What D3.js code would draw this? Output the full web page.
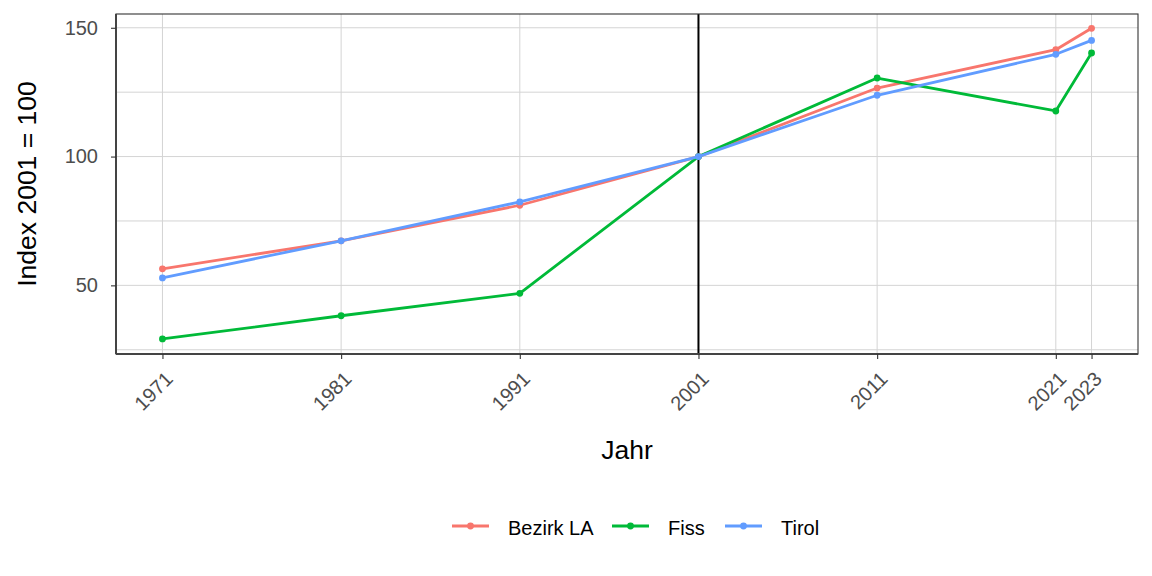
<!DOCTYPE html>
<html><head><meta charset="utf-8">
<script src="https://cdn.jsdelivr.net/npm/d3@7"></script>
<style>body{margin:0;background:#fff;} text{font-family:"Liberation Sans",Arial,sans-serif;}</style>
</head><body><svg id="c" width="1152" height="576"></svg>
<script>
const years = [1971, 1981, 1991, 2001, 2011, 2021, 2023];
const seriesNames = ["Bezirk LA", "Fiss", "Tirol"];
const bezirkLA = [56.4, 67.3, 81.1, 100, 126.6, 141.5, 149.8];
const fiss = [29.2, 38.2, 46.9, 100, 130.5, 117.7, 140.2];
const tirol = [52.9, 67.3, 82.4, 100, 123.8, 139.7, 145.1];
const colors = ["#F8766D", "#00BA38", "#619CFF"];
const yTicks = [50, 100, 150];
const yMinor = [25, 75, 125];
const refYear = 2001;

const svg = d3.select("#c");
const L = 116, R = 1138, T = 14, B = 354;
const x = d3.scaleLinear().domain([1968.4, 2025.6]).range([L, R]);
const y = d3.scaleLinear().domain([23.35, 155.35]).range([B, T]);
const grid = "#d4d4d4";

// grid
svg.append("g").selectAll("line").data(yMinor.concat(yTicks)).join("line")
  .attr("x1", L).attr("x2", R).attr("y1", d => y(d)).attr("y2", d => y(d))
  .attr("stroke", grid).attr("stroke-width", 1);
svg.append("g").selectAll("line").data(years).join("line")
  .attr("y1", T).attr("y2", B).attr("x1", d => x(d)).attr("x2", d => x(d))
  .attr("stroke", grid).attr("stroke-width", 1);

// vline
svg.append("line").attr("x1", x(refYear)).attr("x2", x(refYear)).attr("y1", T).attr("y2", B)
  .attr("stroke", "#000").attr("stroke-width", 2);

// series
const data = [bezirkLA, fiss, tirol];
const line = d3.line().x((d, i) => x(years[i])).y(d => y(d));
data.forEach((vals, k) => {
  svg.append("path").datum(vals).attr("d", line).attr("fill", "none")
    .attr("stroke", colors[k]).attr("stroke-width", 2.8).attr("stroke-linejoin", "round");
  svg.append("g").selectAll("circle").data(vals).join("circle")
    .attr("cx", (d, i) => x(years[i])).attr("cy", d => y(d)).attr("r", 3.4).attr("fill", colors[k]);
});

// panel border
svg.append("rect").attr("x", L).attr("y", T).attr("width", R - L).attr("height", B - T)
  .attr("fill", "none").attr("stroke", "#333").attr("stroke-width", 1.1);
svg.append("line").attr("x1", L).attr("x2", R).attr("y1", B).attr("y2", B).attr("stroke", "#444").attr("stroke-width", 2);
svg.append("line").attr("x1", L).attr("x2", L).attr("y1", T).attr("y2", B).attr("stroke", "#444").attr("stroke-width", 2);

// axes
const xAxis = d3.axisBottom(x).tickValues(years).tickFormat(d3.format("d")).tickSize(5).tickPadding(0);
const gx = svg.append("g").attr("transform", `translate(0,${B})`).call(xAxis);
gx.select(".domain").remove();
gx.selectAll(".tick line").attr("stroke", "#333").attr("stroke-width", 1.1);
gx.selectAll(".tick text").attr("fill", "#4d4d4d").style("font-size", "20px")
  .attr("text-anchor", "end").attr("dy", null).attr("y", null)
  .attr("transform", "translate(1,16) rotate(-45)").attr("dominant-baseline", "hanging");

const yAxis = d3.axisLeft(y).tickValues(yTicks).tickSize(5).tickPadding(13);
const gy = svg.append("g").attr("transform", `translate(${L},0)`).call(yAxis);
gy.select(".domain").remove();
gy.selectAll(".tick line").attr("stroke", "#333").attr("stroke-width", 1.1);
gy.selectAll(".tick text").attr("fill", "#4d4d4d").style("font-size", "20px");

// titles
svg.append("text").attr("x", (L + R) / 2).attr("y", 459).attr("text-anchor", "middle")
  .style("font-size", "26.5px").attr("fill", "#000").text("Jahr");
svg.append("text").attr("transform", `translate(36,${(T + B) / 2}) rotate(-90)`).attr("text-anchor", "middle")
  .style("font-size", "26.5px").attr("fill", "#000").text("Index 2001 = 100");

// legend
const keyX = [452, 612, 725];
const lg = svg.append("g");
seriesNames.forEach((n, k) => {
  lg.append("line").attr("x1", keyX[k]).attr("x2", keyX[k] + 37).attr("y1", 526).attr("y2", 526)
    .attr("stroke", colors[k]).attr("stroke-width", 2.8);
  lg.append("circle").attr("cx", keyX[k] + 18.5).attr("cy", 526).attr("r", 3.4).attr("fill", colors[k]);
  lg.append("text").attr("x", keyX[k] + 56).attr("y", 535).style("font-size", "20px").attr("fill", "#000").text(n);
});
</script></body></html>
